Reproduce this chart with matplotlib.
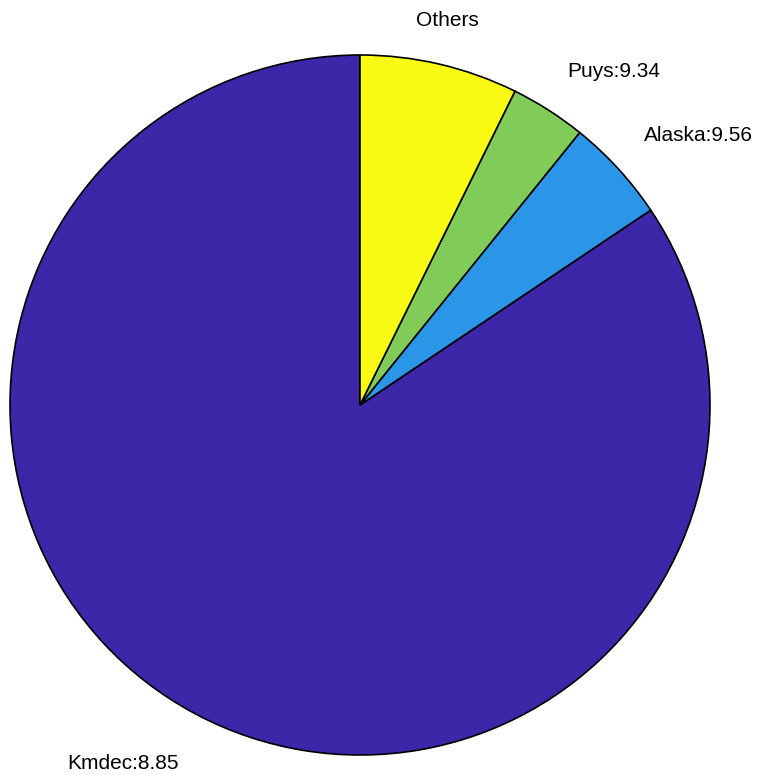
import numpy as np
import matplotlib.pyplot as plt
import matplotlib.transforms as mtransforms

plt.rcParams['font.family'] = ['Liberation Sans', 'DejaVu Sans']

labels = ['Kmdec:8.85', 'Alaska:9.56', 'Puys:9.34', 'Others']
shares = [84.4, 4.8, 3.5, 7.3]
colors = ['#3E26A8', '#2B96E8', '#81CC59', '#F9FA14']

fig = plt.figure(figsize=(7.57, 7.75), dpi=100)
ax = fig.add_axes([10 / 757, 20 / 775, 700 / 757, 700 / 775])

wedges, texts = ax.pie(shares, labels=labels, colors=colors, startangle=90,
                       counterclock=True, labeldistance=1.1,
                       wedgeprops=dict(edgecolor='black', linewidth=1.2),
                       textprops=dict(fontsize=15))

# MATLAB-style label alignment: anchor at 1.1R, push text away from circle
for w, t in zip(wedges, texts):
    ang = np.deg2rad((w.theta1 + w.theta2) / 2)
    c, s = np.cos(ang), np.sin(ang)
    if abs(c) < 0.3:
        t.set_ha('center')
    else:
        t.set_ha('left' if c > 0 else 'right')
    if s > 0:
        t.set_va('bottom')
    else:
        t.set_va('top')
        # bottom labels sit a little lower in the original
        t.set_transform(ax.transData + mtransforms.ScaledTranslation(0, -7 / 72, fig.dpi_scale_trans))

ax.set_xlim(-1, 1)
ax.set_ylim(-1, 1)
ax.set_aspect('equal')
ax.axis('off')

fig.savefig('out.png', dpi=100)
